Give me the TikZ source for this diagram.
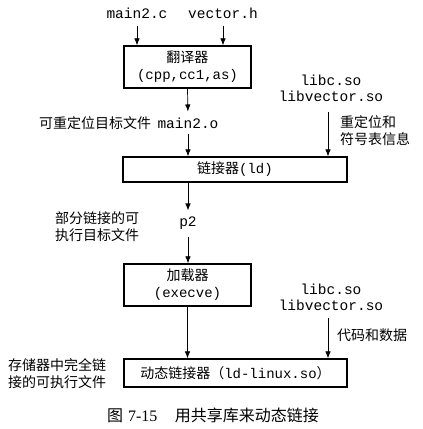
\documentclass[tikz,border=0pt]{standalone}
\usepackage{fontspec}
\setmonofont{Liberation Mono}
\newfontfamily\cjk{Noto Sans CJK SC}
\newfontfamily\capfont{Liberation Serif}
\usetikzlibrary{arrows.meta,positioning}
\tikzset{
  ar/.style={-{Latex[length=7pt,width=5.5pt]},line width=0.7pt},
  bx/.style={draw,line width=1.3pt,inner sep=0pt,align=center,font=\cjk\fontsize{14}{16}\selectfont},
  cd/.style={font=\ttfamily\fontsize{14.5}{16}\selectfont,inner sep=0pt,align=center},
  cn/.style={font=\cjk\fontsize{14}{17}\selectfont,inner sep=0pt,align=left}
}
\begin{document}
\begin{tikzpicture}[x=1pt,y=-1pt]
\useasboundingbox (0,0) rectangle (423,429);
% boxes
\node[bx,minimum width=127pt,minimum height=42pt] (trans) at (187.5,67) {翻译器\\[1pt]{\ttfamily(cpp,cc1,as)}};
\node[bx,minimum width=224pt,minimum height=25pt] (link) at (235,169.5) {链接器{\ttfamily(ld)}};
\node[bx,minimum width=127pt,minimum height=42pt] (load) at (187.5,285) {加载器\\[1pt]{\ttfamily(execve)}};
\node[bx,minimum width=223pt,minimum height=28pt] (dyn) at (235.5,373) {动态链接器（{\ttfamily ld-linux.so}）};
% inputs
\node[cd] (src1) at (137,13) {main2.c};
\node[cd] (src2) at (223,13) {vector.h};
\node[cd] (obj) at (188,123) {main2.o};
\node[cn,left=6pt of obj] (objlbl) {可重定位目标文件};
\node[cd] (libs1) at (331,88) {libc.so\\libvector.so};
\node[cn,anchor=west] (rel) at (340,131) {重定位和\\符号表信息};
\node[cd] (p2) at (188,223) {p2};
\node[cn,anchor=west] (p2lbl) at (55,227) {部分链接的可\\执行目标文件};
\node[cd] (libs2) at (331,297) {libc.so\\libvector.so};
\node[cn,anchor=west] (data) at (337,335) {代码和数据};
\node[cn,anchor=west] (memlbl) at (8,374) {存储器中完全链\\接的可执行文件};
% arrows
\draw[ar,shorten <=7pt] (src1.south) -- (src1.south |- trans.north);
\draw[ar,shorten <=7pt] (src2.south) -- (src2.south |- trans.north);
\draw[ar,shorten >=6pt] (trans.south) -- (obj.north);
\draw[ar,shorten <=5pt] (obj.south) -- (obj.south |- link.north);
\draw[ar,shorten <=10pt] ([xshift=-3pt]libs1.south) -- ([xshift=-3pt]libs1.south |- link.north);
\draw[ar,shorten >=6pt] (link.south -| p2) -- (p2.north);
\draw[ar,shorten <=7pt] (p2.south) -- (p2.south |- load.north);
\draw[ar] (load.south) -- (load.south |- dyn.north);
\draw[ar,shorten <=7pt] ([xshift=-3pt]libs2.south) -- ([xshift=-3pt]libs2.south |- dyn.north);
% caption
\node[font=\cjk\fontsize{16}{18}\selectfont,inner sep=0pt] (cap) at (213,415) {图\hspace{5pt}{\capfont 7-15}\hspace{1.1em}用共享库来动态链接};
\end{tikzpicture}
\end{document}
